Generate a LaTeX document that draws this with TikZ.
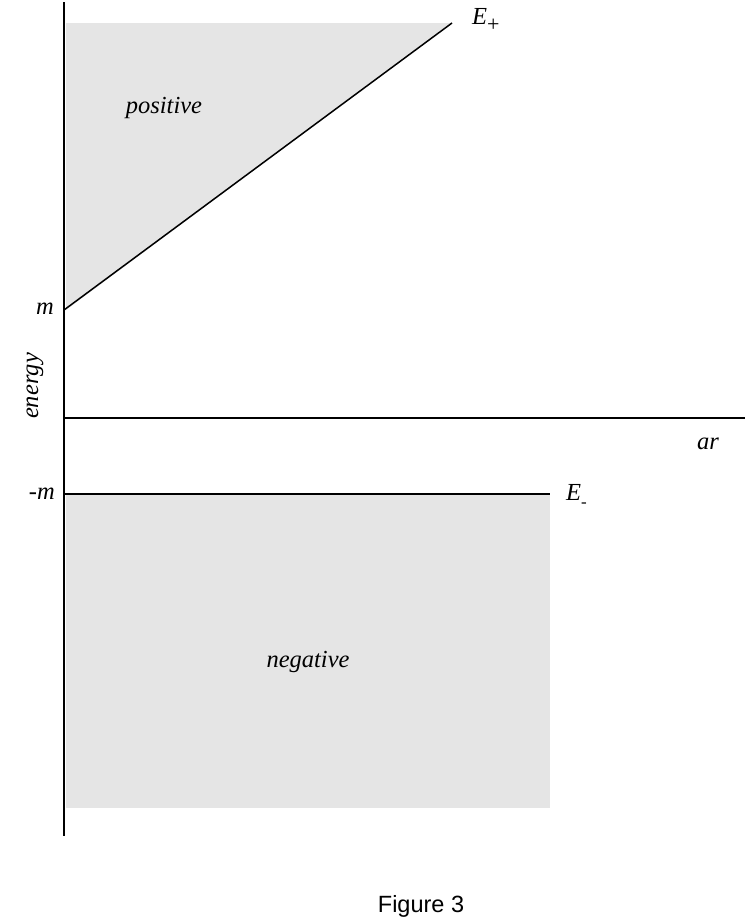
\documentclass[tikz,border=0pt]{standalone}
\usepackage{fontspec}
\setmainfont{Liberation Serif}
\newfontfamily\figfont{Liberation Sans}
\begin{document}
\begin{tikzpicture}[x=1pt,y=-1pt,
  axis/.style={line width=1.7pt,black},
  edge/.style={line width=1.5pt,black},
  region/.style={fill=black!10,draw=none},
  lbl/.style={font=\fontsize{24.5}{28}\selectfont\itshape,inner sep=0pt}]
\useasboundingbox (0,0) rectangle (747,921);
% regions
\fill[region] (66,23) -- (452,23) -- (66,310) -- cycle;
\fill[region] (66,494) rectangle (550,808);
% axes
\coordinate (vtop) at (64,2);
\coordinate (vbot) at (64,836);
\coordinate (horig) at (64,418);
\coordinate (hend) at (745,418);
\draw[axis] (vtop) -- (vbot);
\draw[axis] (horig) -- (hend);
% E lines
\coordinate (mpt) at (64,310);
\coordinate (eplus) at (452,23);
\coordinate (mmpt) at (64,494);
\coordinate (eminus) at (550,494);
\draw[edge] (mpt) -- (eplus);
\draw[edge] (mmpt) -- (eminus);
% labels
\node[lbl,anchor=west] (lEp) at (472,20) {E\raisebox{-0.3em}{\fontsize{22}{22}\selectfont\upshape +}};
\node[lbl,anchor=west] (lEm) at (566,496) {E\raisebox{-0.25em}{\fontsize{17}{17}\selectfont\upshape -}};
\node[lbl] (lpos) at (164,108) {positive};
\node[lbl] (lneg) at (308,662) {negative};
\node[lbl,anchor=east] (lm) at (54,309) {m};
\node[lbl,anchor=east] (lmm) at (55,494) {-m};
\node[lbl] (lar) at (708,444) {ar};
\node[lbl,rotate=90] (len) at (35,386) {energy};
\node[font=\figfont\fontsize{23.5}{26}\selectfont,inner sep=0pt] (cap) at (421,906) {Figure 3};
\end{tikzpicture}
\end{document}
